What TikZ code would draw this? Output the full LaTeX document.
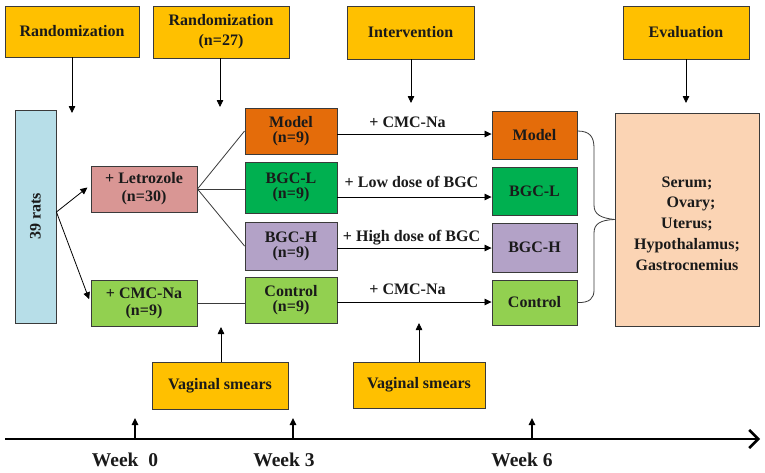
\documentclass[tikz,border=0pt]{standalone}
\usepackage{fontspec}
\setmainfont{Liberation Serif}
\usetikzlibrary{arrows.meta,calc}
\definecolor{ybox}{HTML}{FFC000}
\definecolor{bluebox}{HTML}{B7DEE8}
\definecolor{pinkbox}{HTML}{D99694}
\definecolor{lgreen}{HTML}{92D050}
\definecolor{orangebox}{HTML}{E46C0A}
\definecolor{dgreen}{HTML}{00B050}
\definecolor{purplebox}{HTML}{B3A2C7}
\definecolor{peach}{HTML}{FBD4B4}
\definecolor{edge}{HTML}{3A3A3A}
\definecolor{txt}{HTML}{1A1A1A}
\begin{document}
\begin{tikzpicture}[x=1pt,y=-1pt,
  box/.style 2 args={draw=edge, line width=0.9pt, inner sep=0pt, align=center,
    minimum width=#1pt, minimum height=#2pt, text=txt,
    font=\fontsize{16}{16}\selectfont\bfseries},
  arr/.style={-{Triangle[length=7pt,width=6.5pt]}, line width=0.8pt, draw=black},
  conn/.style={line width=0.8pt, draw=edge},
  lbl/.style={text=txt, font=\fontsize{16}{16}\selectfont\bfseries, inner sep=1pt},
  alab/.style={lbl, midway, anchor=base, inner sep=0pt},
  wk/.style={lbl, font=\fontsize{19.5}{19.5}\selectfont\bfseries}]
\path[fill=white] (0,0) rectangle (765,472);
\useasboundingbox (0,0) rectangle (765,472);

% top boxes
\node[box={134}{51}, fill=ybox] (rand1) at (72,31.5) {Randomization};
\node[box={136}{52}, fill=ybox, font=\fontsize{16}{20}\selectfont\bfseries] (rand2) at (221,32) {Randomization\\(n=27)};
\node[box={127}{53}, fill=ybox] (interv) at (410.5,32.5) {Intervention};
\node[box={126}{53}, fill=ybox] (evalb) at (686,32.5) {Evaluation};

\coordinate (t1) at (72,113);
\coordinate (t2) at (220,107);
\coordinate (t3) at (411,103);
\coordinate (t4) at (686,103);
\draw[arr] (rand1.south -| t1) -- (t1);
\draw[arr] (rand2.south -| t2) -- (t2);
\draw[arr] (interv.south -| t3) -- (t3);
\draw[arr] (evalb.south -| t4) -- (t4);

% left
\node[box={41}{213}, fill=bluebox] (rats) at (35.5,216.5) {};
\node[rotate=90, lbl] (ratslbl) at (rats.center) {39 rats};
\node[box={106}{46}, fill=pinkbox, font=\fontsize{16}{18}\selectfont\bfseries] (letro) at (144,189) {+ Letrozole\\(n=30)};
\node[box={106}{46}, fill=lgreen, font=\fontsize{16}{17}\selectfont\bfseries] (cmc) at (144,303) {+ CMC-Na\\(n=9)};

\draw[arr, shorten >=4pt] (rats.east |- 0,212) -- (letro.west |- 0,185);
\draw[arr, shorten >=4pt] (rats.east |- 0,212) -- (cmc.west |- 0,303);

% middle groups
\node[box={92}{46}, fill=orangebox, font=\fontsize{16}{15}\selectfont\bfseries] (model) at (291,131) {Model\\(n=9)};
\node[box={92}{51}, fill=dgreen, font=\fontsize{16}{15}\selectfont\bfseries] (bgcl) at (291,187.5) {BGC-L\\(n=9)};
\node[box={92}{48}, fill=purplebox, font=\fontsize{16}{15}\selectfont\bfseries] (bgch) at (291,246) {BGC-H\\(n=9)};
\node[box={92}{46}, fill=lgreen, font=\fontsize{16}{15}\selectfont\bfseries] (ctrl) at (291,300) {Control\\(n=9)};

\draw[conn] (letro.east) -- (model.west);
\draw[conn] (letro.east) -- (letro.east -| bgcl.west);
\draw[conn] (letro.east) -- (bgch.west);
\draw[conn] (cmc.east) -- (cmc.east -| ctrl.west);

% right groups
\node[box={85}{48}, fill=orangebox] (rmodel) at (534.5,135) {Model};
\node[box={85}{48}, fill=dgreen] (rbgcl) at (534.5,191) {BGC-L};
\node[box={85}{49}, fill=purplebox] (rbgch) at (534.5,247.5) {BGC-H};
\node[box={85}{45}, fill=lgreen] (rctrl) at (534.5,302.5) {Control};

\draw[arr] (model.east |- 0,134) -- node[alab, yshift=7pt, xshift=-7pt] {+ CMC-Na} (rmodel.west |- 0,134);
\draw[arr] (bgcl.east |- 0,197) -- node[alab, yshift=10pt, xshift=-3pt] {+ Low dose of BGC} (rbgcl.west |- 0,197);
\draw[arr] (bgch.east |- 0,248) -- node[alab, yshift=6.5pt, xshift=-3pt] {+ High dose of BGC} (rbgch.west |- 0,248);
\draw[arr] (ctrl.east |- 0,302) -- node[alab, yshift=8pt, xshift=-7pt] {+ CMC-Na} (rctrl.west |- 0,302);

% result box
\node[box={144}{213}, fill=peach] (result) at (687,219.5) {};
\node[lbl, align=center, font=\fontsize{16}{20.8}\selectfont\bfseries] (resulttxt) at ([yshift=-4pt]result.center)
  {Serum;\\\ \ Ovary;\\Uterus;\\Hypothalamus;\\Gastrocnemius};

% brace
\draw[conn] (rmodel.east |- 0,131) .. controls (590,131) and (594,137) .. (594,148)
  -- (594,205) .. controls (594,214) and (600,218) .. (result.west);
\draw[conn] (result.west) .. controls (600,220) and (594,224) .. (594,233)
  -- (594,290) .. controls (594,298) and (590,303) .. (rctrl.east);

% vaginal smears
\node[box={136}{47}, fill=ybox] (vs1) at (220,385.5) {Vaginal smears};
\node[box={132}{46}, fill=ybox] (vs2) at (419,385) {Vaginal smears};
\coordinate (u1) at (221,327);
\coordinate (u2) at (419,323);
\draw[arr] (vs1.north -| u1) -- (u1);
\draw[arr] (vs2.north -| u2) -- (u2);

% timeline
\coordinate (tl0) at (5,439);
\coordinate (tl1) at (760,439);
\draw[line width=2.6pt, -{Straight Barb[length=9pt,width=18pt,line width=2.6pt]}] (tl0) -- (tl1);
\coordinate (w0) at (135,439);
\coordinate (w3) at (293,439);
\coordinate (w6) at (532,439);
\coordinate (w0t) at (135,418);
\coordinate (w3t) at (293,418);
\coordinate (w6t) at (532,418);
\draw[arr, line width=1.4pt] (w0) -- (w0t);
\draw[arr, line width=1.4pt] (w3) -- (w3t);
\draw[arr, line width=1.4pt] (w6) -- (w6t);
\node[wk] (wk0) at (125,460) {Week\ \ 0};
\node[wk] (wk3) at (284,460) {Week 3};
\node[wk] (wk6) at (522,460) {Week 6};
\end{tikzpicture}
\end{document}
